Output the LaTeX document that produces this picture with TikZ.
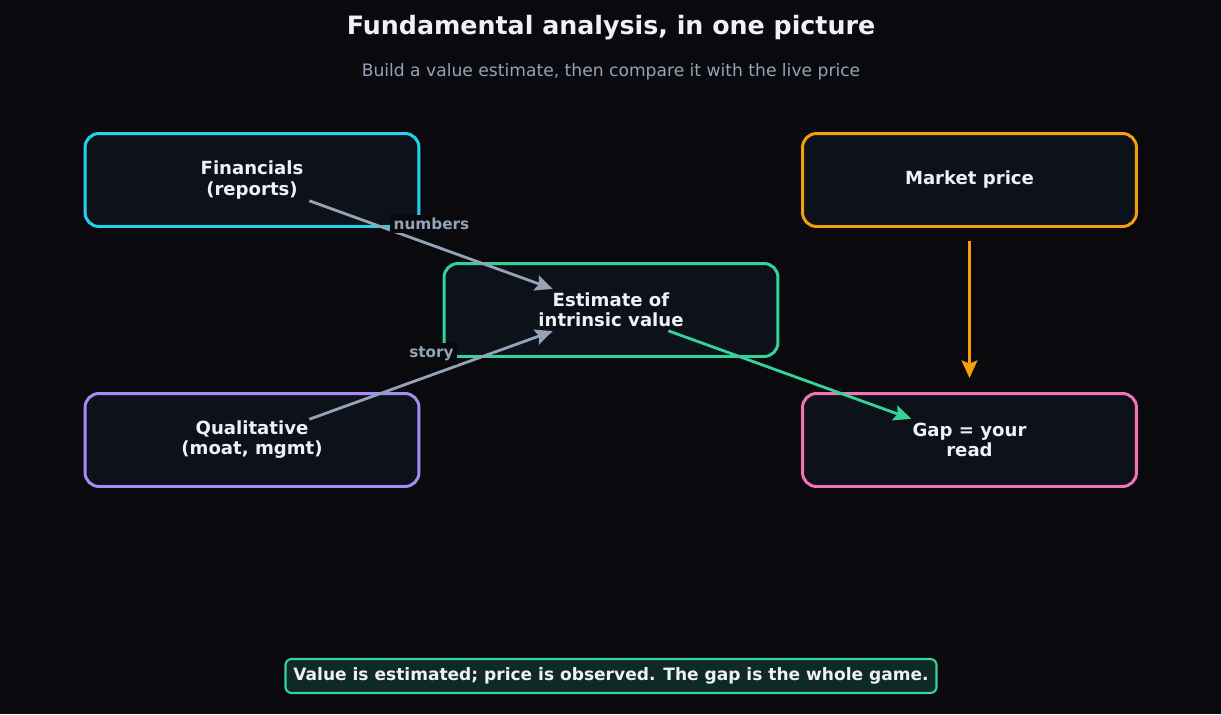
\documentclass[tikz,border=0pt]{standalone}
\usepackage{fontspec}
\setmainfont{DejaVu Sans}
\usetikzlibrary{arrows.meta}
\definecolor{night}{HTML}{0A0A0E}
\definecolor{panel}{HTML}{0D111A}
\definecolor{chalk}{HTML}{EEF2F7}
\definecolor{mist}{HTML}{94A3B8}
\definecolor{sky}{HTML}{22D3EE}
\definecolor{amber}{HTML}{F59E0B}
\definecolor{mint}{HTML}{34D399}
\definecolor{lilac}{HTML}{A78BFA}
\definecolor{rose}{HTML}{F472B6}
\definecolor{moss}{HTML}{0F2A24}

\begin{document}
\begin{tikzpicture}[x=0.02cm,y=-0.02cm,
  card/.style={draw,line width=1.7pt,rounded corners=0.28cm,fill=panel,minimum width=6.68cm,minimum height=1.86cm,align=center,text=chalk,font=\fontsize{10.3}{11.4}\selectfont\bfseries},
  flow/.style={line width=1.6pt,-{Stealth[length=10pt,width=9pt,inset=1.8pt]},shorten <=1.22cm,shorten >=1.24cm},
  tag/.style={fill=night,text=mist,font=\fontsize{8.7}{10}\selectfont\bfseries,inner sep=2pt}]
\path[fill=night] (0,0) rectangle (1221,714);
\node[font=\fontsize{14.4}{17}\selectfont\bfseries,text=chalk] (title) at (611,28) {Fundamental analysis, in one picture};
\node[font=\fontsize{9.75}{11}\selectfont,text=mist] (subtitle) at (611,72) {Build a value estimate, then compare it with the live price};
% the five cards
\node[card,draw=sky] (fin) at (252,180) {Financials\\(reports)};
\node[card,draw=amber] (mkt) at (969.5,180) {Market price};
\node[card,draw=mint] (est) at (611,310) {Estimate of\\intrinsic value};
\node[card,draw=lilac] (qual) at (252,440) {Qualitative\\(moat, mgmt)};
\node[card,draw=rose] (gap) at (969.5,440) {Gap = your\\read};
% connectors
\draw[flow,mist] (fin.center) -- node[tag,midway,yshift=0.42cm] {numbers} (est.center);
\draw[flow,mist] (qual.center) -- node[tag,midway,yshift=0.42cm] {story} (est.center);
\draw[flow,mint] (est.center) -- (gap.center);
\draw[flow,amber] (mkt.center) -- (gap.center);
\node[draw=mint,fill=moss,line width=1.2pt,rounded corners=0.12cm,text=chalk,font=\fontsize{9.7}{11}\selectfont\bfseries,inner xsep=4.5pt,minimum height=0.68cm] (note) at (611,676) {Value is estimated; price is observed. The gap is the whole game.};
\end{tikzpicture}
\end{document}
